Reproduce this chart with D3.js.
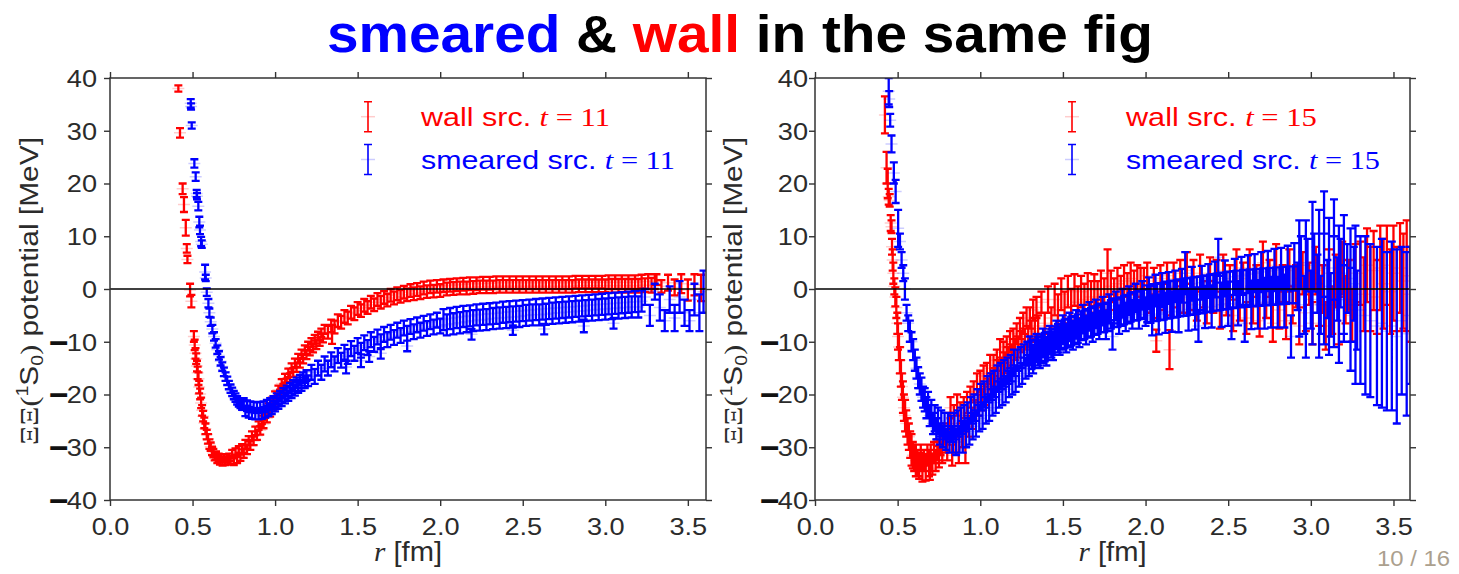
<!DOCTYPE html>
<html>
<head>
<meta charset="utf-8">
<script src="https://cdn.jsdelivr.net/npm/d3@7"></script>
<style>
  body { margin: 0; background: #fff; }
  svg  { display: block; }
</style>
</head>
<body>
<svg id="fig" width="1459" height="574"></svg>
<script>
'use strict';

// ── Data: [r (fm), V (MeV), error (MeV)] ──────────────────────────────────
const wallT11 = [
  [0.414,38.0,0.6],[0.424,29.6,0.9],[0.440,19.0,1.0],[0.448,16.0,1.4],[0.459,11.6,1.5],[0.465,7.7,0.8],[0.469,5.6,0.7],[0.485,-0.2,1.2],[0.493,-2.3,1.2],
  [0.508,-9.0,1.0],[0.513,-10.6,1.0],[0.518,-12.2,1.0],[0.522,-13.2,1.0],[0.527,-14.6,1.0],[0.531,-15.9,1.2],[0.536,-17.0,1.2],[0.540,-18.6,1.2],[0.546,-19.9,1.0],[0.552,-21.6,1.0],
  [0.558,-23.0,1.0],[0.564,-24.1,1.0],[0.571,-25.4,1.0],[0.578,-26.5,1.0],[0.586,-27.6,0.9],[0.594,-28.4,0.9],[0.602,-29.4,0.9],[0.610,-29.9,0.8],[0.618,-30.7,0.8],[0.626,-31.1,0.8],
  [0.634,-31.7,0.8],[0.642,-31.6,0.8],[0.650,-32.3,0.7],[0.658,-31.9,0.7],[0.666,-32.6,0.7],[0.674,-32.0,0.7],[0.682,-32.8,0.7],[0.690,-32.1,0.7],[0.698,-32.7,0.7],[0.706,-32.0,0.7],
  [0.714,-32.6,0.7],[0.722,-31.9,0.7],[0.730,-32.4,0.7],
  [0.74,-31.3,0.8],[0.75,-32.6,0.8],[0.76,-31.0,0.8],[0.77,-32.2,0.8],[0.78,-30.6,0.8],[0.79,-31.8,0.8],[0.80,-30.2,0.8],[0.81,-31.2,0.8],[0.82,-29.4,0.8],[0.83,-30.5,0.8],
  [0.84,-28.7,0.8],[0.85,-29.7,0.8],[0.86,-27.8,0.8],[0.87,-28.8,0.8],[0.88,-26.9,0.8],[0.89,-27.8,0.8],[0.90,-25.9,0.8],[0.91,-26.8,0.8],[0.92,-24.8,0.8],[0.93,-25.6,0.8],
  [0.94,-23.6,0.8],[0.95,-24.5,0.8],[0.96,-22.5,0.8],[0.97,-23.4,0.8],[0.98,-21.4,0.8],[0.99,-22.2,0.8],[1.00,-20.2,0.8],[1.01,-21.1,0.8],[1.02,-19.1,0.8],[1.03,-19.9,0.8],
  [1.04,-17.9,0.8],[1.05,-18.8,0.8],[1.06,-16.9,0.8],[1.07,-17.8,0.8],[1.08,-15.9,0.8],[1.09,-16.8,0.8],[1.10,-14.9,0.8],[1.11,-15.8,0.8],[1.12,-14.0,0.8],[1.13,-14.9,0.8],
  [1.14,-13.1,0.8],[1.15,-14.1,0.8],[1.16,-12.3,0.8],[1.17,-13.3,0.8],[1.18,-11.5,0.8],[1.19,-12.5,0.8],[1.20,-10.8,0.8],[1.21,-11.8,0.8],[1.22,-10.1,0.8],[1.23,-11.2,0.8],
  [1.24,-9.5,0.8],[1.25,-10.6,0.8],[1.26,-8.9,0.8],[1.27,-10.0,0.8],[1.28,-8.3,0.8],[1.29,-9.3,0.8],[1.30,-7.6,0.8],
  [1.32,-8.2,1.2],[1.34,-7.0,1.2],[1.345,-8.6,1.8],[1.36,-7.2,1.2],[1.38,-6.0,1.2],[1.40,-6.3,1.2],[1.42,-5.2,1.2],[1.44,-5.5,1.2],[1.46,-4.4,1.2],[1.48,-4.7,1.2],
  [1.50,-3.7,1.2],[1.52,-4.1,1.2],[1.54,-3.1,1.2],[1.56,-3.5,1.2],[1.58,-2.5,1.2],[1.60,-3.0,1.2],[1.62,-2.0,1.2],[1.64,-2.5,1.2],[1.66,-1.6,1.2],[1.68,-2.1,1.2],
  [1.70,-1.2,1.2],[1.72,-1.7,1.2],[1.74,-0.9,1.2],[1.76,-1.4,1.2],[1.78,-0.6,1.2],[1.80,-1.1,1.2],[1.82,-0.3,1.2],[1.84,-0.9,1.2],[1.86,-0.1,1.2],[1.88,-0.7,1.2],
  [1.90,0.2,1.2],[1.92,-0.5,1.2],[1.94,0.4,1.2],[1.96,-0.4,1.2],[1.98,0.5,1.2],[2.00,-0.3,1.2],[2.02,0.6,1.2],[2.04,0.0,1.2],[2.06,0.7,1.2],[2.08,0.1,1.2],
  [2.10,0.8,1.2],[2.12,0.2,1.2],[2.14,0.9,1.2],[2.16,0.2,1.2],[2.18,1.0,1.2],[2.20,0.3,1.2],[2.22,1.0,1.2],[2.24,0.4,1.2],[2.26,1.1,1.2],[2.28,0.4,1.2],
  [2.30,1.1,1.2],[2.32,0.4,1.2],[2.34,1.2,1.2],[2.36,0.5,1.2],[2.38,1.2,1.2],[2.40,0.5,1.2],[2.42,1.2,1.2],[2.44,0.5,1.2],[2.46,1.2,1.2],[2.48,0.5,1.2],
  [2.50,1.2,1.2],[2.52,0.5,1.2],[2.54,1.2,1.2],[2.56,0.5,1.2],[2.58,1.2,1.2],[2.60,0.5,1.2],[2.62,1.2,1.2],[2.64,0.5,1.2],[2.66,1.2,1.2],[2.68,0.5,1.2],
  [2.70,1.2,1.2],[2.72,0.5,1.2],[2.74,1.2,1.2],[2.76,0.5,1.2],[2.78,1.2,1.2],[2.80,0.5,1.2],[2.82,1.3,1.2],[2.84,0.6,1.2],[2.86,1.3,1.2],[2.88,0.6,1.2],
  [2.90,1.3,1.2],[2.92,0.6,1.2],[2.94,1.3,1.2],[2.96,0.6,1.2],[2.98,1.3,1.2],[3.00,0.6,1.2],[3.02,1.3,1.3],[3.04,0.6,1.3],[3.06,1.3,1.3],[3.08,0.6,1.3],
  [3.10,1.3,1.3],[3.12,0.6,1.3],[3.14,1.3,1.3],[3.16,0.6,1.3],[3.18,1.3,1.3],[3.20,0.6,1.3],[3.22,1.4,1.3],[3.24,0.7,1.3],[3.26,1.4,1.4],[3.28,0.7,1.4],
  [3.30,1.4,1.4],[3.31,1.8,1.0],[3.34,0.5,1.2],[3.38,1.2,1.5],[3.42,0.3,1.5],[3.46,1.0,1.8],[3.50,-0.2,2.0],[3.54,0.8,2.0],[3.58,0.2,2.5]
];

const smearedT11 = [
  [0.489,35.2,0.8],[0.491,34.6,0.6],[0.495,31.0,0.6],[0.511,23.8,0.8],[0.519,21.3,0.8],[0.525,18.1,0.7],[0.527,17.6,0.6],[0.535,15.7,0.8],[0.541,12.7,1.0],[0.545,11.2,0.8],
  [0.552,9.0,0.9],[0.556,8.5,0.7],[0.576,3.2,1.4],[0.580,2.1,0.6],[0.586,-0.6,0.7],[0.596,-2.7,0.8],[0.602,-4.5,0.8],
  [0.61,-6.2,0.8],[0.62,-7.6,0.8],[0.63,-9.0,0.8],[0.64,-10.3,0.8],[0.65,-11.5,0.8],[0.66,-12.6,0.8],[0.67,-13.7,0.8],[0.68,-14.7,0.8],[0.69,-15.7,0.8],[0.70,-16.6,0.8],
  [0.71,-17.4,0.8],[0.72,-18.2,0.8],[0.73,-18.9,0.8],[0.74,-19.5,0.8],[0.75,-20.1,0.8],[0.76,-20.6,0.8],[0.77,-21.1,0.8],[0.78,-21.5,0.8],[0.79,-21.8,0.8],[0.80,-22.1,0.8],
  [0.81,-21.7,1.0],[0.82,-23.1,1.0],[0.83,-22.1,1.0],[0.84,-23.4,1.0],[0.85,-22.3,1.0],[0.86,-23.6,1.0],[0.87,-22.4,1.0],[0.88,-23.7,1.0],[0.89,-22.5,1.0],[0.90,-23.7,1.0],
  [0.91,-22.4,1.0],[0.92,-23.6,1.0],[0.93,-22.3,1.0],[0.94,-23.4,1.0],[0.95,-22.0,1.0],[0.96,-23.1,1.0],[0.97,-21.7,1.0],[0.98,-22.7,1.0],[0.99,-21.3,1.0],[1.00,-22.2,1.0],
  [1.01,-20.8,1.0],[1.02,-21.7,1.0],[1.03,-20.3,1.0],[1.04,-21.2,1.0],[1.05,-19.8,1.0],[1.06,-20.7,1.0],[1.07,-19.3,1.0],[1.08,-20.2,1.0],[1.09,-18.8,1.0],[1.10,-19.7,1.0],
  [1.11,-18.3,1.0],[1.12,-19.2,1.0],[1.13,-17.8,1.0],[1.14,-18.7,1.0],[1.15,-17.3,1.0],[1.16,-18.3,1.0],[1.17,-16.8,1.0],[1.18,-17.8,1.0],[1.19,-16.4,1.0],[1.20,-17.4,1.0],
  [1.22,-15.8,1.4],[1.24,-16.6,1.4],[1.26,-15.0,1.4],[1.28,-15.8,1.4],[1.30,-14.2,1.4],[1.32,-15.0,1.4],[1.34,-13.4,1.4],[1.36,-14.2,1.4],[1.38,-12.6,1.4],[1.40,-13.5,1.4],
  [1.42,-12.0,1.4],[1.44,-12.8,1.4],[1.46,-11.3,1.4],[1.48,-12.2,1.4],[1.50,-10.7,1.4],[1.52,-11.6,1.4],[1.54,-10.2,1.4],[1.56,-11.1,1.4],[1.58,-9.6,1.4],[1.60,-10.5,1.4],
  [1.62,-9.1,1.4],[1.64,-10.0,1.4],[1.66,-8.6,1.4],[1.68,-9.6,1.4],[1.70,-8.2,1.4],[1.72,-9.2,1.4],[1.74,-7.8,1.4],[1.76,-8.8,1.4],[1.78,-7.4,1.4],[1.80,-8.4,1.4],
  [1.82,-7.1,1.4],[1.84,-8.1,1.4],[1.86,-6.8,1.4],[1.88,-7.8,1.4],[1.90,-6.5,1.4],[1.92,-7.5,1.4],[1.94,-6.2,1.4],[1.96,-7.2,1.4],[1.98,-5.9,1.4],[2.00,-7.0,1.4],
  [2.02,-5.8,2.0],[2.04,-6.8,2.0],[2.06,-5.6,2.0],[2.08,-6.6,2.0],[2.10,-5.4,2.0],[2.12,-6.4,2.0],[2.14,-5.2,2.0],[2.16,-6.2,2.0],[2.18,-5.1,2.0],[2.20,-6.0,2.0],
  [2.22,-4.9,2.0],[2.24,-5.9,2.0],[2.26,-4.8,2.0],[2.28,-5.8,2.0],[2.30,-4.7,2.0],[2.32,-5.6,2.0],[2.34,-4.6,2.0],[2.36,-5.5,2.0],[2.38,-4.4,2.0],[2.40,-5.4,2.0],
  [2.42,-4.3,2.0],[2.44,-5.3,2.0],[2.46,-4.2,2.0],[2.48,-5.2,2.0],[2.50,-4.1,2.0],[2.52,-5.0,2.0],[2.54,-4.0,2.0],[2.56,-4.9,2.0],[2.58,-3.9,2.0],[2.60,-4.9,2.0],
  [2.62,-3.8,2.0],[2.64,-4.8,2.0],[2.66,-3.7,2.0],[2.68,-4.6,2.0],[2.70,-3.6,2.0],[2.72,-4.5,2.0],[2.74,-3.5,2.0],[2.76,-4.4,2.0],[2.78,-3.4,2.0],[2.80,-4.3,2.0],
  [2.82,-3.3,2.0],[2.84,-4.2,2.0],[2.86,-3.2,2.0],[2.88,-4.1,2.0],[2.90,-3.1,2.0],[2.92,-4.0,2.0],[2.94,-3.0,2.0],[2.96,-3.9,2.0],[2.98,-2.9,2.0],[3.00,-3.8,2.0],
  [3.02,-2.8,2.0],[3.04,-3.7,2.0],[3.06,-2.7,2.0],[3.08,-3.6,2.0],[3.10,-2.6,2.0],[3.12,-3.5,2.0],[3.14,-2.5,2.0],[3.16,-3.4,2.0],[3.18,-2.4,2.0],[3.20,-3.4,2.0],
  [3.22,-2.3,2.0],
  [1.43,-14.8,1.2],[1.52,-13.6,1.2],[1.57,-12.8,1.0],[1.64,-12.2,1.0],[1.80,-10.8,1.0],[2.19,-8.6,1.0],[2.44,-7.8,0.9],[2.63,-7.6,1.0],[2.87,-7.0,1.2],[3.05,-6.5,1.0],
  [3.24,-1.5,1.5],[3.27,-5.0,2.0],[3.30,-0.5,1.5],[3.33,-3.5,2.5],[3.36,-6.0,2.0],[3.39,-2.0,2.5],[3.42,-5.5,2.5],[3.45,-1.5,3.0],[3.48,-4.5,2.5],[3.51,-6.0,2.0],
  [3.54,-2.0,3.0],[3.57,-4.5,3.5],[3.595,-0.5,4.0]
];

const wallT15 = [
  [0.423,33.0,3.5],[0.433,23.0,3.0],[0.440,20.0,2.8],[0.446,17.5,1.5],[0.452,16.8,1.2],[0.458,12.5,1.5],[0.463,11.8,1.2],[0.466,8.0,1.5],[0.470,5.5,2.0],[0.474,3.0,2.0],
  [0.480,0.5,1.5],[0.486,-1.5,1.8],[0.492,-3.5,2.0],[0.498,-6.5,2.0],[0.502,-9.0,2.5],[0.508,-11.0,2.5],[0.514,-13.5,2.5],[0.520,-16.0,2.5],[0.526,-18.5,2.5],[0.532,-20.5,3.0],
  [0.538,-22.5,2.5],[0.545,-24.0,3.0],[0.552,-25.5,2.5],[0.560,-27.0,2.5],[0.568,-28.0,2.5],[0.576,-29.5,2.5],[0.584,-30.5,3.0],[0.592,-31.5,2.5],[0.600,-32.0,2.5],[0.610,-32.5,3.0],
  [0.620,-33.0,2.5],[0.630,-33.5,2.5],[0.640,-32.0,2.5],[0.650,-34.0,2.5],[0.660,-32.5,2.0],[0.670,-33.8,2.5],[0.680,-31.5,2.0],[0.690,-33.0,2.5],[0.695,-34.0,2.2],[0.700,-32.0,2.5],
  [0.710,-33.2,2.0],[0.720,-31.0,2.0],[0.730,-32.5,2.0],[0.740,-30.5,2.0],[0.750,-31.8,2.0],[0.760,-29.5,2.0],[0.770,-31.0,2.0],[0.780,-27.5,2.0],[0.790,-29.0,2.0],[0.800,-30.5,2.0],
  [0.810,-25.5,2.0],[0.82,-22.5,2.0],[0.83,-31.5,2.0],[0.84,-24.0,2.0],[0.85,-29.0,2.0],[0.86,-22.0,2.0],[0.87,-30.5,2.5],[0.88,-23.5,2.0],[0.89,-28.0,2.0],[0.90,-22.5,2.0],
  [0.91,-30.0,3.0],[0.92,-21.5,2.0],[0.93,-26.0,2.0],[0.94,-20.5,2.0],[0.95,-24.5,2.0],[0.96,-19.5,2.0],[0.97,-23.0,2.0],[0.98,-18.0,2.0],[0.99,-22.0,2.0],[1.00,-17.5,2.0],
  [1.01,-21.0,2.0],[1.02,-16.5,2.0],[1.03,-20.0,2.0],[1.04,-16.0,2.0],[1.05,-19.0,2.0],[1.06,-15.0,2.5],[1.07,-18.0,2.0],[1.08,-14.5,2.0],[1.09,-17.0,2.0],[1.10,-13.5,2.0],
  [1.11,-15.5,2.0],[1.12,-12.0,2.5],[1.13,-15.0,2.0],[1.14,-12.0,2.0],[1.15,-14.0,2.0],[1.16,-11.0,2.0],[1.17,-13.0,2.0],[1.18,-10.0,2.0],[1.19,-12.5,2.0],[1.20,-9.5,2.0],
  [1.21,-11.5,2.0],[1.22,-8.5,2.0],[1.23,-11.0,2.0],[1.24,-7.5,2.0],[1.25,-10.0,2.0],[1.26,-6.5,2.0],[1.27,-9.5,2.0],[1.28,-5.5,2.0],[1.29,-9.0,2.0],[1.30,-5.5,2.0],
  [1.31,-8.0,2.0],[1.32,-4.0,2.0],[1.33,-7.5,2.0],[1.34,-3.5,2.0],[1.35,-7.0,2.0],[1.37,-2.5,2.0],[1.39,-6.5,2.0],[1.41,-2.0,2.5],[1.43,-5.5,2.0],
  [1.45,-2.0,3.0],[1.47,-4.0,3.0],[1.49,-1.0,3.0],[1.51,-3.5,3.0],[1.53,-0.5,3.0],[1.55,-3.0,3.0],[1.57,-0.2,3.0],[1.59,-2.5,3.0],[1.61,-0.5,3.0],[1.63,-2.0,3.0],
  [1.65,0.0,3.0],[1.67,-1.5,3.0],[1.69,-0.2,3.0],[1.71,-1.5,3.0],[1.73,0.0,3.5],[1.75,-1.0,3.0],[1.77,3.0,4.5],[1.79,0.5,3.0],[1.81,-1.0,3.0],[1.83,1.0,3.0],
  [1.85,-0.5,3.0],[1.87,1.5,3.0],[1.89,0.0,3.0],[1.91,2.0,3.0],[1.93,0.5,3.0],[1.95,1.5,3.0],[1.97,0.5,3.5],[1.99,1.0,3.0],
  [2.01,2.5,2.5],[2.03,-2.0,2.5],[2.05,1.5,2.5],[2.065,-9.8,2.1],[2.07,-3.0,2.5],[2.09,2.0,2.5],[2.11,-1.5,2.5],[2.13,2.5,2.5],[2.145,-11.5,3.7],[2.15,-2.5,2.5],
  [2.17,2.0,3.0],[2.19,-1.0,2.5],[2.21,3.0,2.5],[2.23,-2.0,2.5],[2.25,3.5,3.5],[2.27,-1.5,2.5],[2.29,2.5,3.0],[2.31,-3.0,3.0],[2.33,3.0,3.5],[2.35,-1.0,2.5],
  [2.37,-3.5,3.0],[2.39,3.0,3.0],[2.41,-1.5,3.0],[2.43,2.5,3.0],[2.45,-4.5,3.0],[2.47,3.5,3.0],[2.49,-2.0,3.0],[2.51,1.5,3.0],[2.53,-5.0,3.0],[2.55,4.0,3.5],
  [2.57,-3.0,3.0],[2.59,2.0,3.0],[2.61,-5.5,3.0],[2.63,4.0,3.5],[2.65,-3.5,3.0],[2.67,1.5,3.0],[2.69,-6.0,3.0],[2.71,5.0,4.0],[2.73,-2.5,3.0],[2.75,2.0,3.5],
  [2.77,-6.5,3.5],[2.79,4.5,4.0],[2.81,-4.0,3.5],[2.83,1.0,3.5],[2.85,-6.0,3.5],[2.87,3.5,4.0],[2.89,-3.0,3.5],[2.91,0.5,4.0],[2.93,-7.0,3.5],[2.95,3.0,4.0],
  [2.97,-4.5,3.5],[2.99,1.0,4.0],[3.01,-6.5,4.0],[3.03,3.5,4.5],[3.05,-3.0,4.0],[3.07,0.0,4.5],[3.09,-7.0,4.5],[3.11,3.0,4.5],[3.13,-4.0,4.5],[3.15,1.5,5.0],
  [3.17,-6.0,4.5],[3.19,4.0,5.0],[3.21,-2.0,4.5],[3.23,0.5,5.0],[3.25,-5.0,5.0],[3.27,3.0,5.5],
  [3.30,3.0,6.0],[3.32,-1.0,7.0],[3.34,4.5,7.0],[3.36,0.0,8.0],[3.38,3.5,7.5],[3.40,-1.5,7.0],[3.42,4.0,8.0],[3.44,1.0,8.5],[3.46,4.5,7.5],[3.48,-0.5,8.0],
  [3.50,3.0,9.0],[3.52,0.0,8.0],[3.54,4.0,8.5],[3.56,1.5,9.0],[3.58,2.5,10.5],[3.60,-1.0,9.0]
];

const smearedT15 = [
  [0.446,37.5,2.5],[0.449,36.0,1.5],[0.455,32.0,1.2],[0.463,27.5,1.6],[0.477,22.0,2.0],[0.488,18.5,2.2],[0.503,11.5,3.5],[0.514,9.0,1.5],[0.524,5.5,1.5],[0.534,3.0,1.5],
  [0.544,0.0,2.0],[0.554,-4.5,1.5],[0.564,-6.5,1.5],[0.574,-8.0,2.0],[0.584,-10.0,1.8],[0.594,-11.5,2.0],[0.604,-13.5,2.0],[0.614,-15.0,2.0],[0.624,-16.8,2.0],[0.634,-18.0,2.0],
  [0.644,-19.0,2.2],[0.654,-20.5,2.0],[0.664,-21.0,2.2],[0.674,-22.5,2.0],[0.684,-22.0,2.5],[0.694,-24.0,2.0],[0.704,-23.5,2.5],[0.714,-25.5,2.0],[0.724,-24.5,2.5],[0.734,-26.5,2.0],
  [0.744,-25.0,2.5],[0.754,-27.5,2.0],[0.764,-25.5,2.5],[0.774,-28.0,2.0],[0.784,-26.0,2.5],[0.794,-28.5,2.0],[0.804,-26.0,2.5],[0.814,-29.0,2.0],[0.824,-26.5,2.5],[0.834,-28.5,2.5],
  [0.844,-26.0,2.5],[0.854,-29.0,2.5],[0.864,-25.5,2.5],[0.874,-28.5,2.5],[0.884,-25.0,2.5],[0.894,-28.0,3.0],[0.904,-24.5,2.5],[0.914,-27.5,2.5],[0.924,-24.0,2.5],[0.934,-27.0,2.5],
  [0.944,-23.0,2.5],[0.954,-26.0,2.5],[0.964,-22.5,2.5],[0.974,-25.5,2.5],[0.984,-21.5,2.5],[0.994,-24.5,2.5],[1.004,-20.5,2.5],[1.014,-24.0,2.5],[1.024,-20.0,2.5],[1.034,-23.0,2.5],
  [1.044,-19.0,2.5],[1.054,-22.5,2.5],[1.064,-18.5,2.5],[1.074,-21.5,2.5],[1.084,-18.0,2.5],[1.094,-21.0,2.5],[1.104,-17.0,2.5],[1.114,-20.0,2.5],[1.124,-16.5,2.5],[1.134,-19.5,2.5],
  [1.144,-16.0,2.5],[1.154,-19.0,2.5],[1.164,-15.5,2.5],[1.174,-18.0,2.5],[1.184,-15.0,2.5],[1.194,-17.5,2.5],[1.204,-14.0,2.5],[1.214,-17.0,2.5],[1.224,-13.5,2.0],[1.234,-16.5,2.0],
  [1.244,-13.0,2.0],[1.254,-16.0,2.0],[1.264,-12.5,2.0],[1.274,-15.0,2.0],[1.284,-12.0,2.0],[1.294,-14.5,2.0],
  [1.30,-11.7,2.7],[1.32,-13.3,2.7],[1.34,-11.2,2.7],[1.36,-12.3,2.7],[1.38,-10.2,2.7],[1.40,-11.8,2.7],[1.42,-9.7,2.7],[1.44,-10.8,2.7],[1.46,-8.7,2.7],[1.48,-9.8,2.7],
  [1.50,-7.7,2.7],[1.52,-9.3,2.7],[1.54,-7.2,2.7],[1.56,-8.8,2.7],[1.58,-6.7,2.7],[1.60,-8.3,2.7],[1.62,-5.7,2.7],[1.64,-7.8,2.7],[1.66,-5.2,2.7],[1.68,-7.3,2.7],
  [1.70,-4.7,2.7],[1.72,-6.8,2.7],[1.74,-4.2,2.7],[1.76,-6.8,2.7],[1.78,-3.7,2.7],[1.80,-9.0,2.5],[1.82,-3.2,2.7],[1.84,-5.8,2.7],[1.86,-2.7,2.7],[1.88,-5.3,2.7],
  [1.90,-2.2,2.7],[1.92,-4.8,2.7],[1.94,-1.7,2.7],[1.96,-4.8,2.7],[1.98,-1.2,2.7],[2.00,-4.3,2.7],
  [1.31,-12.5,2.7],[1.33,-12.3,2.7],[1.35,-11.8,2.7],[1.37,-11.3,2.7],[1.39,-11.0,2.7],[1.41,-10.8,2.7],[1.43,-10.3,2.7],[1.45,-9.8,2.7],[1.47,-9.3,2.7],[1.49,-8.8,2.7],
  [1.51,-8.5,2.7],[1.53,-8.3,2.7],[1.55,-8.0,2.7],[1.57,-7.8,2.7],[1.59,-7.5,2.7],[1.61,-7.0,2.7],[1.63,-6.8,2.7],[1.65,-6.5,2.7],[1.67,-6.3,2.7],[1.69,-6.0,2.7],
  [1.71,-5.8,2.7],[1.73,-5.5,2.7],[1.75,-5.5,2.7],[1.77,-5.3,2.7],[1.79,-4.8,2.7],[1.81,-4.5,2.7],[1.83,-4.5,2.7],[1.85,-4.3,2.7],[1.87,-4.0,2.7],[1.89,-3.8,2.7],
  [1.91,-3.5,2.7],[1.93,-3.3,2.7],[1.95,-3.2,2.7],[1.97,-3.0,2.7],[1.99,-2.8,2.7],
  [2.02,-0.8,3.0],[2.04,-5.0,3.8],[2.06,-0.3,3.0],[2.08,-4.8,3.8],[2.10,-0.2,3.2],[2.12,-4.5,3.8],[2.14,0.2,3.0],[2.16,-4.3,3.8],[2.18,0.5,3.0],[2.20,-4.2,4.0],
  [2.22,0.6,3.2],[2.24,3.0,4.0],[2.26,-3.9,4.0],[2.28,1.0,3.2],[2.30,-3.7,4.0],[2.32,-7.0,3.0],[2.34,1.2,3.2],[2.36,-3.4,4.0],[2.38,1.5,3.2],[2.40,-3.3,4.0],
  [2.42,1.8,3.4],[2.44,6.0,3.5],[2.46,-3.0,4.2],[2.48,2.0,3.4],[2.50,-2.8,4.2],[2.52,-6.5,3.0],[2.54,2.3,3.4],[2.56,-2.7,4.2],[2.58,2.5,3.6],[2.60,-6.5,3.5],
  [2.62,2.8,3.6],[2.64,-3.0,4.6],[2.66,3.0,3.6],[2.68,-2.9,4.6],[2.70,3.2,3.8],[2.72,-2.7,4.8],[2.74,3.4,3.8],[2.76,-2.5,4.8],[2.78,3.6,4.0],[2.80,-2.5,4.8],
  [2.82,3.8,4.0],[2.84,-2.3,5.0],[2.86,4.0,4.2],[2.88,-9.0,4.0],[2.90,4.2,4.5],[2.92,0.5,4.5],[2.94,5.0,5.0],[2.96,-3.0,5.5],[2.98,4.5,5.0],[3.00,-2.0,5.5],
  [2.01,-2.8,3.5],[2.03,-2.9,3.5],[2.05,-2.6,3.5],[2.07,-2.5,3.5],[2.09,-2.4,3.5],[2.11,-2.3,3.5],[2.13,-2.1,3.5],[2.15,-2.0,3.5],[2.17,-1.9,3.5],[2.19,-1.8,3.5],
  [2.21,-1.7,3.5],[2.23,-1.6,3.5],[2.25,-1.5,3.5],[2.27,-1.4,3.5],[2.29,-1.3,3.5],[2.31,-1.2,3.5],[2.33,-1.1,3.5],[2.35,-1.0,3.5],[2.37,-0.9,3.5],[2.39,-0.8,3.5],
  [2.41,-0.7,3.5],[2.43,-0.6,3.5],[2.45,-0.5,3.5],[2.47,-0.4,3.5],[2.49,-0.3,3.5],[2.51,-0.2,3.5],[2.53,-0.1,3.5],[2.55,0.0,3.5],[2.57,0.0,3.5],[2.59,0.1,3.5],
  [2.61,0.1,3.5],[2.63,0.2,3.5],[2.65,0.2,3.5],[2.67,0.3,3.5],[2.69,0.3,3.5],[2.71,0.4,3.5],[2.73,0.4,3.5],[2.75,0.5,3.5],[2.77,0.5,3.5],[2.79,0.6,3.5],
  [2.81,0.6,3.5],[2.83,0.7,3.5],[2.85,0.7,3.5],[2.87,0.8,3.5],[2.89,0.8,3.5],
  [3.02,5.0,5.5],[3.04,1.0,5.5],[3.06,-3.0,5.5],[3.08,4.5,6.0],[3.10,0.0,5.5],[3.12,-3.0,6.0],[3.14,4.0,6.0],[3.16,0.0,6.0],[3.18,3.0,6.5],[3.20,-2.0,6.5],
  [3.22,2.0,6.5],[3.24,-3.0,7.0],[3.26,1.0,7.0],[3.28,-4.0,7.5],
  [2.93,2.0,11.0],[2.97,0.0,13.0],[3.01,3.0,13.5],[3.05,1.0,14.0],[3.08,4.0,14.5],[3.11,0.5,13.0],[3.14,3.0,14.0],[3.17,-1.0,13.0],[3.20,2.0,12.0],[3.24,-2.0,13.5],
  [3.27,-3.0,15.0],[3.30,-4.0,14.0],[3.33,-5.0,15.0],[3.36,-6.0,14.5],[3.40,-7.0,15.0],[3.43,-6.5,16.0],[3.46,-8.0,15.0],[3.49,-7.0,16.0],[3.52,-9.0,16.5],[3.55,-6.0,14.0],
  [3.58,-8.5,15.5],[3.60,-5.0,13.0]
];

const xTickValues = [0, 0.5, 1.0, 1.5, 2.0, 2.5, 3.0, 3.5];
const yTickValues = [-40, -30, -20, -10, 0, 10, 20, 30, 40];
const timeSlices  = ['11', '15'];
const titleParts  = [['smeared', '#0000ff'], [' & ', '#000'], ['wall', '#ff0000'], [' in the same fig', '#000']];

// ── Layout ────────────────────────────────────────────────────────────────
const SANS   = '"Liberation Sans", Arial, Helvetica, sans-serif';
const SERIF  = '"Liberation Serif", "DejaVu Serif", serif';
const AXIS   = '#333';
const TXT    = '#2b2b2b';
const RED    = '#ff0000';
const BLUE   = '#0000ff';
const SX     = 1.18;        // glyphs in the source are stretched sideways
const TOP    = 78;
const BOTTOM = 500;
const CAP    = 4.0;
const BAR_W  = 2.3;

const panels = [
  { left: 110, right: 706,  xMax: 3.61, wall: wallT11, smeared: smearedT11, t: timeSlices[0],
    gap: 13, yLabelX: 30,  legX: 368,  textX: 421,  wWall: 189, wSmear: 254 },
  { left: 815, right: 1410, xMax: 3.60, wall: wallT15, smeared: smearedT15, t: timeSlices[1],
    gap: 7,  yLabelX: 734, legX: 1072, textX: 1126, wWall: 191, wSmear: 254 }
];

const svg = d3.select('#fig');

// horizontal factor that makes a text element span `width` px
function fit(text, width) {
  return width / text.node().getComputedTextLength();
}

function errorPath(data, x, y, cap) {
  const p = d3.path();
  data.forEach(([r, v, e]) => {
    const px = x(r), y1 = y(v - e), y2 = y(v + e);
    p.moveTo(px, y1); p.lineTo(px, y2);
    p.moveTo(px - cap, y1); p.lineTo(px + cap, y1);
    p.moveTo(px - cap, y2); p.lineTo(px + cap, y2);
  });
  return p.toString();
}

function markerPath(data, x, y) {
  const p = d3.path();
  data.forEach(([r, v]) => {
    p.moveTo(x(r) - 6, y(v)); p.lineTo(x(r) + 6, y(v));
  });
  return p.toString();
}

// ── Title ─────────────────────────────────────────────────────────────────
const title = svg.append('text')
  .attr('font-family', SANS).attr('font-weight', 700).attr('font-size', 52);
titleParts.forEach(([s, c]) => title.append('tspan').attr('fill', c).text(s));
title.attr('transform', `translate(327,52) scale(${fit(title, 826)},1)`);

// ── Panels ────────────────────────────────────────────────────────────────
panels.forEach((P, pi) => {
  const x = d3.scaleLinear().domain([0, P.xMax]).range([P.left, P.right]);
  const y = d3.scaleLinear().domain([-40, 40]).range([BOTTOM, TOP]);
  const g = svg.append('g');

  const clipId = `clip${pi}`;
  svg.append('clipPath').attr('id', clipId).append('rect')
    .attr('x', P.left).attr('y', TOP).attr('width', P.right - P.left).attr('height', BOTTOM - TOP);

  // data: wall first, smeared on top
  const plot = g.append('g').attr('clip-path', `url(#${clipId})`);
  [[P.wall, RED], [P.smeared, BLUE]].forEach(([data, col]) => {
    plot.append('path').attr('d', markerPath(data, x, y))
      .attr('stroke', col).attr('stroke-opacity', 0.2).attr('stroke-width', 1.5).attr('fill', 'none');
    plot.append('path').attr('d', errorPath(data, x, y, CAP))
      .attr('stroke', col).attr('stroke-width', BAR_W).attr('fill', 'none');
  });

  // zero line
  plot.append('line')
    .attr('x1', x(0)).attr('x2', x(P.xMax)).attr('y1', y(0)).attr('y2', y(0))
    .attr('stroke', '#000').attr('stroke-width', 1.6);

  // axes
  const styleTicks = sel => {
    sel.select('.domain').remove();
    sel.selectAll('.tick line').attr('stroke', AXIS).attr('stroke-width', 1.4);
  };

  const gb = g.append('g').attr('transform', `translate(0,${BOTTOM})`)
    .call(d3.axisBottom(x).tickValues(xTickValues).tickSize(6).tickFormat(d3.format('.1f')))
    .attr('font-family', SANS).attr('font-size', 23);
  styleTicks(gb);
  gb.selectAll('.tick text').attr('y', null).attr('dy', null).attr('fill', TXT)
    .attr('transform', `translate(0,35) scale(${SX},1)`);

  const gl = g.append('g').attr('transform', `translate(${P.left},0)`)
    .call(d3.axisLeft(y).tickValues(yTickValues).tickSize(6).tickFormat(''))
    .attr('font-family', SANS).attr('font-size', 23);
  styleTicks(gl);
  gl.selectAll('.tick text').attr('x', null).attr('dy', '0.36em').attr('fill', TXT)
    .attr('transform', `translate(${-P.gap},0) scale(${SX},1)`)
    .each(function (d) {
      const t = d3.select(this);
      if (d < 0) t.append('tspan').attr('font-family', '"DejaVu Sans"').attr('fill', '#111').text('\u2501');
      t.append('tspan').text(Math.abs(d));
    });

  const gt = g.append('g').attr('transform', `translate(0,${TOP})`)
    .call(d3.axisTop(x).tickValues(xTickValues).tickSize(6).tickFormat(''));
  styleTicks(gt);
  const gr = g.append('g').attr('transform', `translate(${P.right},0)`)
    .call(d3.axisRight(y).tickValues(yTickValues).tickSize(6).tickFormat(''));
  styleTicks(gr);

  g.append('rect')
    .attr('x', P.left).attr('y', TOP).attr('width', P.right - P.left).attr('height', BOTTOM - TOP)
    .attr('fill', 'none').attr('stroke', AXIS).attr('stroke-width', 1.5);

  // x label
  const xl = g.append('text').attr('font-size', 28).attr('fill', TXT).attr('text-anchor', 'middle');
  xl.append('tspan').attr('font-family', SERIF).attr('font-style', 'italic').text('r');
  xl.append('tspan').attr('font-family', SANS).text(' [fm]');
  xl.attr('transform', `translate(${(P.left + P.right) / 2},561) scale(${fit(xl, 68)},1)`);

  // y label
  const yl = g.append('text').attr('font-size', 26).attr('fill', TXT)
    .attr('font-family', SANS).attr('text-anchor', 'middle');
  yl.append('tspan').attr('font-family', SERIF).text('\u039E\u039E(');
  yl.append('tspan').attr('font-size', 17).attr('dy', -10).text('1');
  yl.append('tspan').attr('dy', 10).text('S');
  yl.append('tspan').attr('font-size', 17).attr('dy', 5).text('0');
  yl.append('tspan').attr('font-family', SERIF).attr('dy', -5).text(')');
  yl.append('tspan').text(' potential [MeV]');
  yl.attr('transform', `translate(${P.yLabelX + 8},291) rotate(-90) scale(${fit(yl, 308)},1)`);

  // legend
  [[RED, 'wall src. ', 116.7, P.wWall], [BLUE, 'smeared src. ', 159.5, P.wSmear]].forEach(([col, lab, cy, w]) => {
    const p = d3.path();
    p.moveTo(P.legX, cy - 15); p.lineTo(P.legX, cy + 15);
    p.moveTo(P.legX - CAP, cy - 15); p.lineTo(P.legX + CAP, cy - 15);
    p.moveTo(P.legX - CAP, cy + 15); p.lineTo(P.legX + CAP, cy + 15);
    g.append('path').attr('d', p.toString()).attr('stroke', col).attr('stroke-width', 1.6).attr('fill', 'none');
    g.append('line').attr('x1', P.legX - 7).attr('x2', P.legX + 7).attr('y1', cy).attr('y2', cy)
      .attr('stroke', col).attr('stroke-opacity', 0.2).attr('stroke-width', 1.5);

    const lt = g.append('text').attr('font-size', 25).attr('fill', col);
    lt.append('tspan').attr('font-family', SANS).text(lab);
    lt.append('tspan').attr('font-family', SERIF).attr('font-style', 'italic').text('t');
    lt.append('tspan').attr('font-family', SERIF).text(' = ' + P.t);
    lt.attr('transform', `translate(${P.textX},${cy + 9}) scale(${fit(lt, w)},1)`);
  });
});

// ── Page number ───────────────────────────────────────────────────────────
const pn = svg.append('text').attr('font-family', SANS).attr('font-size', 22).attr('fill', '#aba08e')
  .text('10 / 16');
pn.attr('transform', `translate(1377,566) scale(${fit(pn, 73)},1)`);
</script>
</body>
</html>
